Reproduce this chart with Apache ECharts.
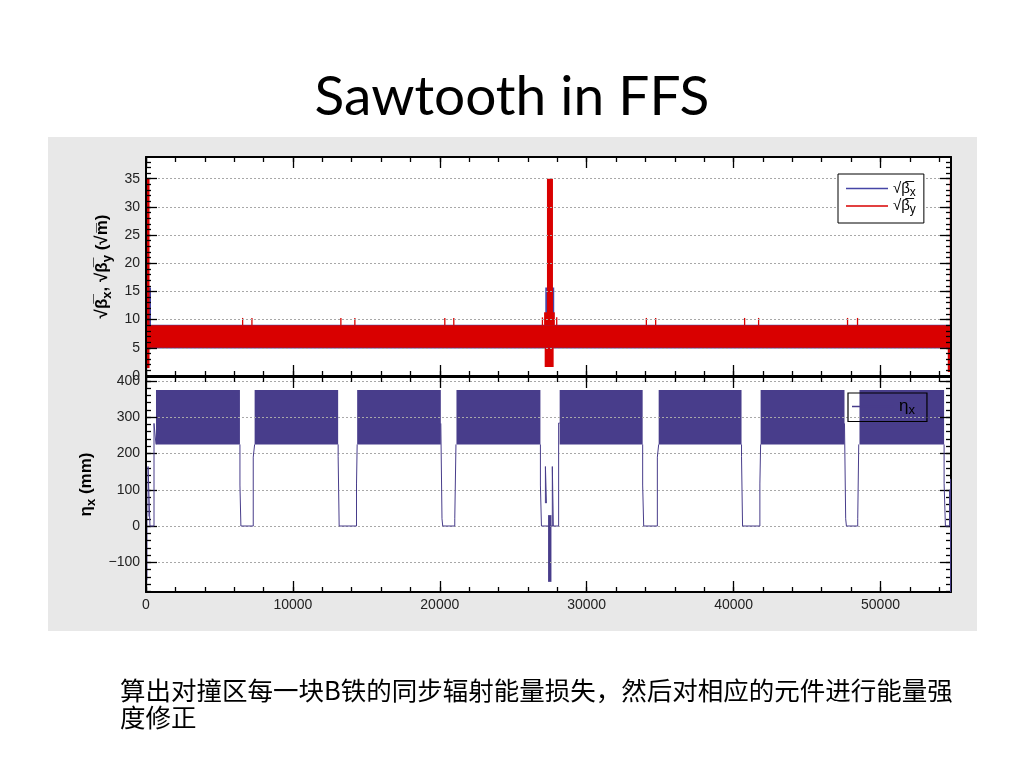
<!DOCTYPE html>
<html>
<head>
<meta charset="utf-8">
<script src="https://cdn.jsdelivr.net/npm/echarts@6/dist/echarts.min.js"></script>
<style>
html,body{margin:0;padding:0;background:#fff;}
#panel{position:absolute;left:48px;top:137px;width:929px;height:494px;background:#e8e8e8;}
#c{position:absolute;left:0;top:0;width:1024px;height:768px;}
</style>
</head>
<body>
<div id="panel"></div>
<div id="c"></div>
<script>
// ---------------- data ----------------
const X_RANGE = [0, 54800];
const TOP_Y_RANGE = [0, 38.85];
const BOT_Y_RANGE = [-182, 411];

const xMajorTicks = [0, 10000, 20000, 30000, 40000, 50000];
const xMinorTicks = [0, 2000, 4000, 6000, 8000, 10000, 12000, 14000, 16000, 18000, 20000, 22000, 24000, 26000,
  28000, 30000, 32000, 34000, 36000, 38000, 40000, 42000, 44000, 46000, 48000, 50000, 52000, 54000];
const topYMajorTicks = [0, 5, 10, 15, 20, 25, 30, 35];
const topYMinorTicks = [0, 1, 2, 3, 4, 5, 6, 7, 8, 9, 10, 11, 12, 13, 14, 15, 16, 17, 18, 19, 20, 21, 22, 23, 24, 25,
  26, 27, 28, 29, 30, 31, 32, 33, 34, 35, 36, 37, 38];
const botYMajorTicks = [-100, 0, 100, 200, 300, 400];
const botYMinorTicks = [-180, -160, -140, -120, -100, -80, -60, -40, -20, 0, 20, 40, 60, 80, 100, 120, 140, 160, 180,
  200, 220, 240, 260, 280, 300, 320, 340, 360, 380, 400];

// sqrt(beta_x): [s start, s end, low, high] envelopes of the fast oscillation
const betaXBlocks = [
  [0, 54800, 4.9, 9.1],
  [136, 340, 9.0, 15.7],
  [27180, 27790, 9.0, 15.7]
];
// sqrt(beta_y) envelopes
const betaYBlocks = [
  [0, 54800, 5.0, 9.0],
  [0, 240, 1.4, 35.0],
  [27100, 27830, 9.0, 11.3],
  [27295, 27704, 9.0, 35.0],
  [27140, 27750, 1.6, 5.0],
  [54580, 54800, 0.7, 9.0],
  [54720, 54800, 9.0, 35.0]
];
// thin sqrt(beta_y) peaks at the arc ends: [s, peak]
const betaYPeaks = [
  [6578, 10.3], [7211, 10.3], [13266, 10.3], [14218, 10.3], [20341, 10.3], [20953, 10.3],
  [26987, 10.4], [27960, 10.4], [34062, 10.3], [34695, 10.3], [40750, 10.3], [41703, 10.3],
  [47757, 10.3], [48437, 10.3]
];

// eta_x: dense oscillation bands in the arcs [s start, s end, low, high]
const etaBands = [
  [680, 6395, 225, 375],
  [7395, 13080, 225, 375],
  [14375, 20070, 225, 375],
  [21135, 26850, 225, 375],
  [28160, 33810, 225, 375],
  [34900, 40540, 225, 375],
  [41840, 47550, 225, 375],
  [48570, 54330, 225, 375]
];
// eta_x dense negative spikes near the IPs
const etaCores = [
  [0, 100, -150, 26],
  [27370, 27600, -154, 30]
];
// eta_x step profile in the straight sections (one list per section)
const etaSegments = [
  [[140, 26], [140, 164], [270, 164], [270, 0], [545, 0], [545, 283], [680, 283], [680, 225]],
  [[6395, 225], [6395, 113], [6460, 113], [6460, 0], [7300, 0], [7300, 190], [7395, 190], [7395, 225]],
  [[13080, 225], [13080, 191], [13150, 191], [13150, 0], [14330, 0], [14330, 116], [14375, 116], [14375, 225]],
  [[20070, 283], [20150, 283], [20150, 20], [20200, 20], [20200, 0], [21020, 0], [21020, 20], [21100, 20], [21100, 225]],
  [[26850, 225], [26850, 113], [26920, 113], [26920, 0], [28090, 0], [28090, 284], [28160, 284]],
  [[27190, 63], [27190, 164], [27260, 164], [27260, 63]],
  [[27660, 0], [27660, 164], [27730, 164], [27730, 0]],
  [[33810, 225], [33810, 113], [33880, 113], [33880, 0], [34810, 0], [34810, 190], [34900, 190], [34900, 225]],
  [[40540, 225], [40540, 191], [40610, 191], [40610, 0], [41790, 0], [41790, 116], [41840, 116], [41840, 225]],
  [[47550, 283], [47630, 283], [47630, 20], [47680, 20], [47680, 0], [48450, 0], [48450, 20], [48520, 20], [48520, 225]],
  [[54330, 225], [54330, 118], [54420, 118], [54420, 0], [54700, 0], [54700, 100]],
  [[54770, 130], [54770, -182]]
];

// ---------------- styles ----------------
const RED = '#d90000';
const BLUE = '#4646a6';
const ETA = '#483d8b';
const LABEL_FONT = 'Liberation Sans';

const etaProfile = [];
etaSegments.forEach((seg, i) => {
  if (i > 0) etaProfile.push(['-', '-']);
  seg.forEach(p => etaProfile.push(p));
});

function blockRender(params, api) {
  const a = api.coord([api.value(0), api.value(3)]);
  const b = api.coord([api.value(1), api.value(2)]);
  let x = Math.min(a[0], b[0]);
  let w = Math.abs(b[0] - a[0]);
  if (w < 1.3) { x -= (1.3 - w) / 2; w = 1.3; }
  const y = Math.min(a[1], b[1]);
  const h = Math.abs(b[1] - a[1]);
  return { type: 'rect', shape: { x: x, y: y, width: w, height: h }, style: { fill: api.visual('color') } };
}

function blockSeries(name, data, color, gi) {
  return {
    type: 'custom', name: name, xAxisIndex: gi * 4, yAxisIndex: gi * 4,
    renderItem: blockRender, clip: true, silent: true,
    dimensions: ['s0', 's1', 'lo', 'hi'],
    encode: { x: [0, 1], y: [2, 3] },
    itemStyle: { color: color },
    data: data
  };
}

const plainNumber = v => String(v).replace('-', '\u2212');

function axisSet(dim, gi, range, major, minor, labels, extra) {
  const first = dim === 'x' ? 'bottom' : 'left';
  const second = dim === 'x' ? 'top' : 'right';
  const mk = (pos, ticks, len, main) => ({
    type: 'value', gridIndex: gi, min: range[0], max: range[1], position: pos,
    axisLine: { show: main, onZero: false, lineStyle: { color: '#000', width: 2 } },
    axisTick: { show: true, inside: true, length: len, customValues: ticks, lineStyle: { color: '#000', width: 1.3 } },
    axisLabel: { show: false },
    splitLine: { show: false },
    z: 3
  });
  const a = mk(first, major, 11, true);
  if (labels) {
    a.axisLabel = { show: true, customValues: labels, formatter: plainNumber, color: '#222',
      fontFamily: LABEL_FONT, fontSize: 14, margin: 6 };
  }
  if (dim === 'y') {
    a.splitLine = { show: true, lineStyle: { color: '#a8a8a8', width: 1, type: [2, 2] } };
  }
  Object.assign(a, extra || {});
  return [a, mk(first, minor, 5, false), mk(second, major, 11, true), mk(second, minor, 5, false)];
}

const legendLabels = { bx: '{n|√β̅}{s|x}', by: '{n|√β̅}{s|y}', eta: '{e|η}{t|x}' };
const legendRich = {
  n: { fontSize: 15, lineHeight: 20, fontFamily: LABEL_FONT, color: '#000' },
  s: { fontSize: 12, lineHeight: 12, verticalAlign: 'bottom', fontFamily: LABEL_FONT, color: '#000' },
  e: { fontSize: 17, lineHeight: 20, fontFamily: LABEL_FONT, color: '#000' },
  t: { fontSize: 13, lineHeight: 13, verticalAlign: 'bottom', fontFamily: LABEL_FONT, color: '#000' }
};
const nameRich = {
  n: { fontSize: 17, lineHeight: 22, fontWeight: 'bold', fontFamily: LABEL_FONT, color: '#000' },
  s: { fontSize: 13, lineHeight: 13, verticalAlign: 'bottom', fontWeight: 'bold', fontFamily: LABEL_FONT, color: '#000' }
};

const chart = echarts.init(document.getElementById('c'), null, { renderer: 'canvas' });
chart.setOption({
  animation: false,
  backgroundColor: 'transparent',
  grid: [
    { left: 146, top: 157, width: 805, height: 219, show: true, backgroundColor: '#fff', borderWidth: 0 },
    { left: 146, top: 377, width: 805, height: 215, show: true, backgroundColor: '#fff', borderWidth: 0 }
  ],
  xAxis: [].concat(
    axisSet('x', 0, X_RANGE, xMajorTicks, xMinorTicks, null),
    axisSet('x', 1, X_RANGE, xMajorTicks, xMinorTicks, xMajorTicks)
  ),
  yAxis: [].concat(
    axisSet('y', 0, TOP_Y_RANGE, topYMajorTicks, topYMinorTicks, topYMajorTicks, {
      name: '{n|√β̅}{s|x}{n|, √β̅}{s|y}{n| (√m̅)}', nameLocation: 'middle', nameRotate: 90, nameGap: 22,
      nameTextStyle: { rich: nameRich }
    }),
    axisSet('y', 1, BOT_Y_RANGE, botYMajorTicks, botYMinorTicks, botYMajorTicks, {
      name: '{n|η}{s|x}{n| (mm)}', nameLocation: 'middle', nameRotate: 90, nameGap: 42,
      nameTextStyle: { rich: nameRich }
    })
  ),
  legend: [
    {
      data: ['bx', 'by'], orient: 'vertical', left: 838, top: 174, padding: [7, 8, 7, 8], itemGap: 0,
      itemWidth: 42, itemHeight: 1.5, icon: 'rect', borderColor: '#000', borderWidth: 1, borderRadius: 0,
      backgroundColor: '#fff', selectedMode: false,
      formatter: n => legendLabels[n], textStyle: { rich: legendRich }
    },
    {
      data: ['eta'], orient: 'vertical', left: 848, top: 393, padding: [5, 12, 5, 4], itemGap: 0,
      itemWidth: 42, itemHeight: 1.5, icon: 'rect', borderColor: '#000', borderWidth: 1.2, borderRadius: 0,
      backgroundColor: 'transparent', selectedMode: false,
      formatter: n => legendLabels[n], textStyle: { rich: legendRich }
    }
  ],
  graphic: [
    { type: 'text', x: 512, y: 97, silent: true,
      style: { text: 'Sawtooth in FFS', font: '55px Lato', fill: '#000', textAlign: 'center', textVerticalAlign: 'middle' } },
    { type: 'text', x: 120, y: 690, silent: true,
      style: { text: '算出对撞区每一块B铁的同步辐射能量损失，然后对相应的元件进行能量强', font: '25.5px "Noto Sans CJK SC"', fill: '#000', textAlign: 'left', textVerticalAlign: 'middle' } },
    { type: 'text', x: 120, y: 717, silent: true,
      style: { text: '度修正', font: '25.5px "Noto Sans CJK SC"', fill: '#000', textAlign: 'left', textVerticalAlign: 'middle' } }
  ],
  series: [
    blockSeries('bx', betaXBlocks, BLUE, 0),
    blockSeries('by', betaYBlocks, RED, 0),
    blockSeries('by', betaYPeaks.map(p => [p[0], p[0], 9.0, p[1]]), RED, 0),
    blockSeries('eta', etaBands, ETA, 1),
    blockSeries('eta', etaCores, ETA, 1),
    {
      type: 'line', name: 'eta', xAxisIndex: 4, yAxisIndex: 4, data: etaProfile,
      showSymbol: false, symbol: 'none', connectNulls: false, silent: true,
      lineStyle: { color: ETA, width: 1 }, itemStyle: { color: ETA }
    }
  ]
});
</script>
</body>
</html>
